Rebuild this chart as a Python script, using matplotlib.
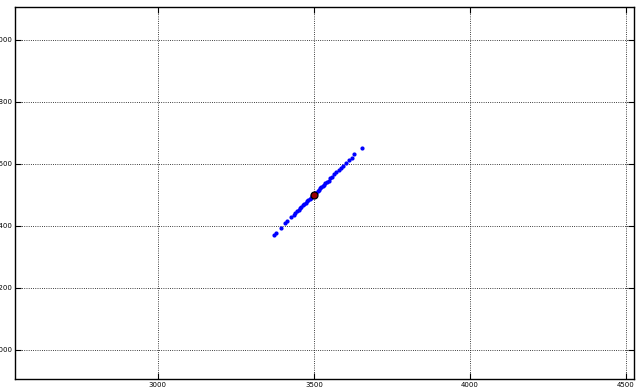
import matplotlib
matplotlib.use("Agg")
import matplotlib.pyplot as plt

# sample points along the diagonal
xs = [3372, 3378, 3395, 3408, 3415, 3428, 3436, 3441, 3446, 3451, 3456, 3460,
      3465, 3469, 3474, 3478, 3482, 3486, 3490, 3494, 3504, 3508, 3512, 3516,
      3520, 3524, 3528, 3532, 3537, 3542, 3547, 3552, 3558, 3565, 3572, 3580,
      3587, 3594, 3604, 3612, 3622, 3630, 3653]
ys = [3370, 3377, 3393, 3410, 3417, 3427, 3434, 3442, 3447, 3450, 3457, 3461,
      3466, 3470, 3473, 3479, 3483, 3487, 3491, 3495, 3505, 3507, 3513, 3517,
      3521, 3525, 3529, 3531, 3538, 3543, 3546, 3553, 3559, 3566, 3573, 3579,
      3588, 3593, 3603, 3613, 3620, 3631, 3652]
center = (3500, 3500)

x_ticks = [3000, 3500, 4000, 4500]
y_ticks = [3000, 3200, 3400, 3600, 3800, 4000]

fig = plt.figure(figsize=(6.38, 3.89), dpi=100)
ax = fig.add_axes([15 / 638, 10 / 389, 619 / 638, 372 / 389])

ax.plot(xs, ys, 'o', color='blue', markeredgecolor='blue', markersize=2.0, zorder=3)
ax.plot([center[0]], [center[1]], 'o', color='#990000', markeredgecolor='black',
        markersize=5, markeredgewidth=0.9, zorder=4)

ax.set_xlim(2542, 4526)
ax.set_ylim(2906, 4106)
ax.set_xticks(x_ticks)
ax.set_yticks(y_ticks)
ax.tick_params(direction='in', length=4, width=0.8, labelsize=5, top=True, right=True, pad=2)
ax.grid(True, linestyle=':', color='black', linewidth=0.6)
for s in ax.spines.values():
    s.set_linewidth(1.0)

fig.savefig('out.png', dpi=100)
